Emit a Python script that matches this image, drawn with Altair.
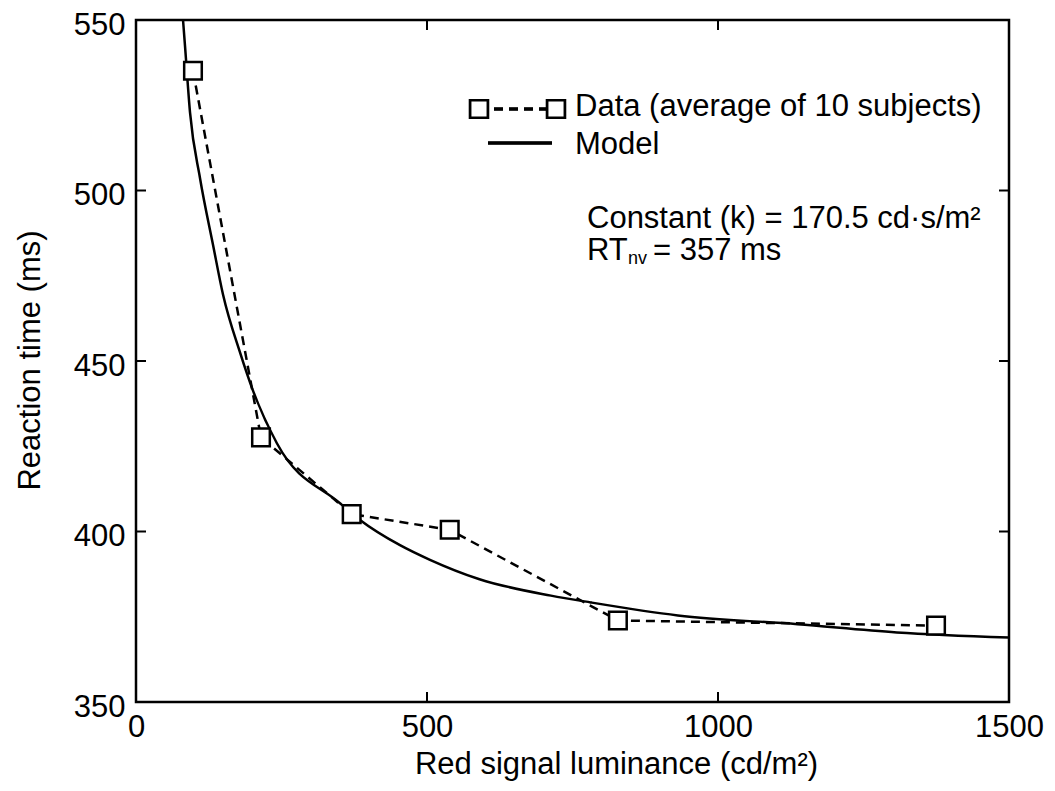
import altair as alt
import pandas as pd

# Data
lum_data = [97.9, 214.8, 370.6, 539.0, 828.0, 1374.6]
rt_data = [535.1, 427.6, 405.1, 400.5, 373.9, 372.4]

lum_model = [80.8, 84.2, 92.8, 110.0, 132.3, 149.5, 178.7, 201.0, 242.3, 350.5,
             384.9, 453.6, 505.1, 590.2, 713.0, 781.4, 931.0, 1136.6, 1307.2, 1500.0]
rt_model = [550.0, 542.4, 522.9, 503.6, 484.1, 469.5, 452.5, 441.3, 425.8, 408.3,
            403.4, 396.0, 391.7, 386.0, 381.2, 379.2, 375.4, 372.8, 370.4, 368.9]

x_ticks = [0, 500, 1000, 1500]
y_ticks = [350, 400, 450, 500, 550]
x_inner = [500, 1000]
y_inner = [400, 450, 500]

FONT = "Liberation Sans"
FS = 31
W, H = 873, 682

df_data = pd.DataFrame({"lum": lum_data, "rt": rt_data})
df_model = pd.DataFrame({"lum": lum_model, "rt": rt_model})
df_xt = pd.DataFrame({"lum": x_inner})
df_yt = pd.DataFrame({"rt": y_inner})

xs = alt.Scale(domain=[0, 1500], nice=False, zero=False)
ys = alt.Scale(domain=[350, 550], nice=False, zero=False)

x_axis = alt.Axis(values=x_ticks, format="d", title="Red signal luminance (cd/m²)", grid=False,
                  ticks=False, tickSize=0, domain=False, labelFlush=False,
                  labelPadding=10, labelOffset=0, labelFont=FONT, labelFontSize=FS,
                  labelColor="black", titleFont=FONT, titleFontSize=FS, titleFontWeight="normal",
                  titleColor="black", titleX=480, titleY=62, titleBaseline="middle",
                  titleAlign="center")
y_axis = alt.Axis(values=y_ticks, format="d", title="Reaction time (ms)", grid=False,
                  ticks=False, tickSize=0, domain=False, labelFlush=False,
                  labelPadding=11, labelOffset=5, labelFont=FONT, labelFontSize=FS,
                  labelColor="black", titleFont=FONT, titleFontSize=FS, titleFontWeight="normal",
                  titleColor="black", titleX=-106, titleY=340, titleBaseline="middle",
                  titleAlign="center", titleAngle=-90)

model = alt.Chart(df_model).mark_line(color="black", strokeWidth=2.5, clip=True,
                                      interpolate="monotone").encode(
    x=alt.X("lum:Q", scale=xs, axis=x_axis),
    y=alt.Y("rt:Q", scale=ys, axis=y_axis),
)

data_line = alt.Chart(df_data).mark_line(color="black", strokeWidth=2.5,
                                         strokeDash=[9, 6], clip=True).encode(
    x=alt.X("lum:Q", scale=xs),
    y=alt.Y("rt:Q", scale=ys),
)

data_pts = alt.Chart(df_data).mark_point(shape="square", size=310, filled=True,
                                         fill="white", stroke="black", strokeWidth=2.5,
                                         opacity=1).encode(
    x=alt.X("lum:Q", scale=xs),
    y=alt.Y("rt:Q", scale=ys),
)

# inward ticks
tick_bottom = alt.Chart(df_xt).mark_rule(color="black", strokeWidth=2).encode(
    x=alt.X("lum:Q", scale=xs), y=alt.value(H), y2=alt.value(H - 10))
tick_top = alt.Chart(df_xt).mark_rule(color="black", strokeWidth=2).encode(
    x=alt.X("lum:Q", scale=xs), y=alt.value(0), y2=alt.value(10))
tick_left = alt.Chart(df_yt).mark_rule(color="black", strokeWidth=2).encode(
    y=alt.Y("rt:Q", scale=ys), x=alt.value(0), x2=alt.value(10))
tick_right = alt.Chart(df_yt).mark_rule(color="black", strokeWidth=2).encode(
    y=alt.Y("rt:Q", scale=ys), x=alt.value(W), x2=alt.value(W - 10))

# legend
leg_dash = alt.Chart(df_data).mark_rule(color="black", strokeWidth=2.5, strokeDash=[9, 6]).encode(
    x=alt.value(343), x2=alt.value(420), y=alt.value(89))
leg_sq1 = alt.Chart(df_data).mark_point(shape="square", size=310, filled=True, fill="white",
                                        stroke="black", strokeWidth=2.5, opacity=1).encode(
    x=alt.value(343), y=alt.value(89))
leg_sq2 = alt.Chart(df_data).mark_point(shape="square", size=310, filled=True, fill="white",
                                        stroke="black", strokeWidth=2.5, opacity=1).encode(
    x=alt.value(420), y=alt.value(89))
leg_model = alt.Chart(df_data).mark_rule(color="black", strokeWidth=2.5).encode(
    x=alt.value(352), x2=alt.value(416), y=alt.value(123))


def label(txt, x, y, size=FS):
    return alt.Chart(pd.DataFrame({"t": [txt]})).mark_text(
        align="left", baseline="middle", font=FONT, fontSize=size, color="black").encode(
        x=alt.value(x), y=alt.value(y), text="t:N")


t_data = label("Data (average of 10 subjects)", 439, 87)
t_model = label("Model", 439, 125)
t_const = label("Constant (k) = 170.5 cd·s/m²", 451, 199)
t_rt = label("RT", 451, 231)
t_nv = label("nv", 492, 239, 18)
t_eq = label("= 357 ms", 517, 231)

chart = alt.layer(
    model, data_line, data_pts,
    tick_bottom, tick_top, tick_left, tick_right,
    leg_dash, leg_sq1, leg_sq2, leg_model,
    t_data, t_model, t_const, t_rt, t_nv, t_eq,
).properties(
    width=W, height=H,
    autosize=alt.AutoSizeParams(type="none"),
    padding={"left": 128, "top": 12, "right": 38, "bottom": 81},
    background="white",
).configure_view(
    stroke="black", strokeWidth=2.5, fill="white"
)

chart.save("out.html", embed_options={"renderer": "svg", "actions": False})
